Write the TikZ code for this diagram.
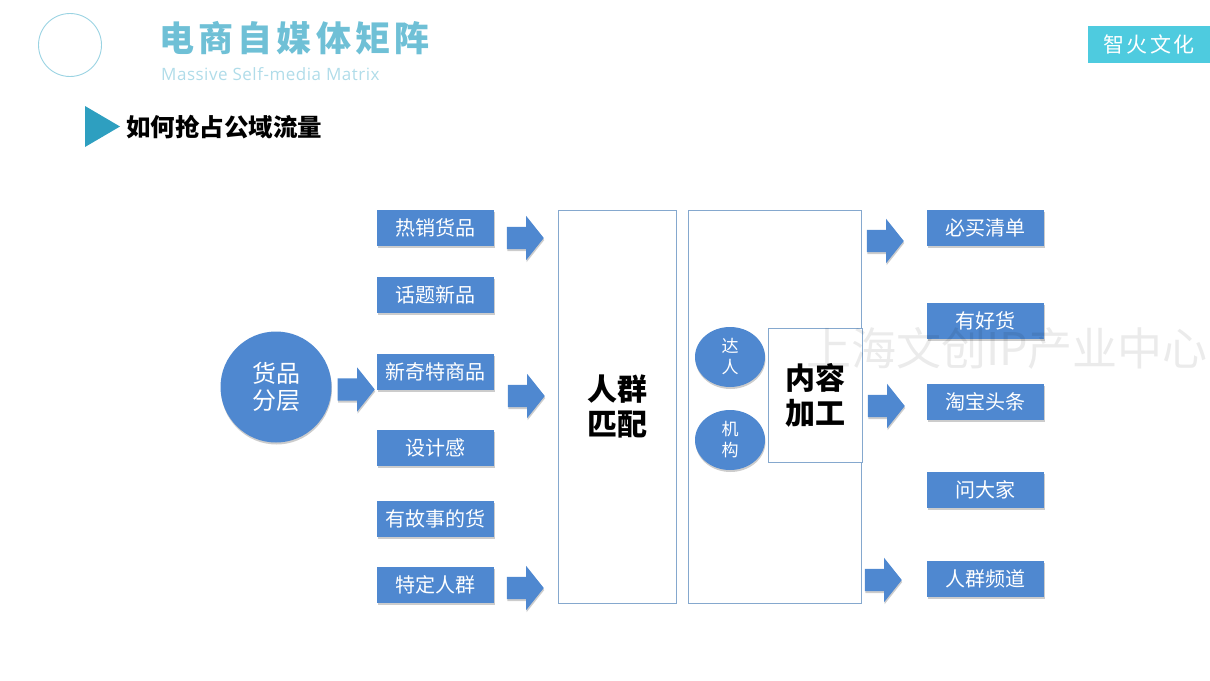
\documentclass[tikz,border=0pt]{standalone}
\usepackage{fontspec}
\setmainfont{Noto Sans CJK SC}
\newfontfamily\wideface[LetterSpace=12]{Noto Sans CJK SC}
\newfontfamily\tagface[LetterSpace=10]{Noto Sans CJK SC}
\newfontfamily\latinface[LetterSpace=3]{Open Sans}
\usetikzlibrary{shapes.arrows,shapes.geometric,shadows}
\definecolor{boxblue}{HTML}{4F88D0}
\definecolor{edgeblue}{HTML}{85A8CE}
\definecolor{titleteal}{HTML}{6FC0D6}
\definecolor{pointerteal}{HTML}{2E9FC0}
\definecolor{tagcyan}{HTML}{4ECBDF}
\tikzset{
	softshadow/.style={drop shadow={shadow xshift=0.5pt, shadow yshift=-2pt, opacity=0.2, fill=black}},
	labelbox/.style={fill=boxblue, text=white, minimum width=117pt, minimum height=36pt, inner sep=0pt, softshadow, font=\fontsize{20}{25}\selectfont},
	blockarrow/.style={single arrow, anchor=tip, fill=boxblue, minimum height=37pt, inner xsep=0pt, inner ysep=11pt, single arrow head extend=11pt, single arrow tip angle=103, softshadow},
	framebox/.style={draw=edgeblue, line width=0.8pt, fill=white, inner sep=0pt},
	bigword/.style={align=center, font=\bfseries\fontsize{30}{35}\selectfont},
	smallround/.style={ellipse, fill=boxblue, text=white, minimum width=70pt, minimum height=60pt, inner sep=0pt, align=center, softshadow, font=\fontsize{17}{21}\selectfont}
}
\begin{document}
\begin{tikzpicture}[x=1pt, y=-1pt]
	\useasboundingbox (0, 0) rectangle (1210, 680);

	%%%%% header %%%%%
	\node[circle, draw=titleteal!70, line width=0.9pt, minimum size=63pt, inner sep=0pt] (ring) at (70, 45) {};
	\node[anchor=west, inner sep=0pt, text=titleteal, font=\wideface\bfseries\fontsize{35}{40}\selectfont] (title) at (159, 38) {电商自媒体矩阵};
	\node[anchor=west, inner sep=0pt, text=titleteal!55, font=\latinface\fontsize{17}{20}\selectfont] (subtitle) at (161, 74) {Massive Self-media Matrix};
	\fill[fill=pointerteal] (85, 106) -- (120, 126.5) -- (85, 147) -- cycle;
	\node[anchor=west, inner sep=0pt, font=\bfseries\fontsize{24.5}{28}\selectfont] (heading) at (126, 127) {如何抢占公域流量};
	\node[fill=tagcyan, text=white, minimum width=122pt, minimum height=37pt, inner sep=0pt, font=\tagface\fontsize{21}{25}\selectfont] (tag) at (1149, 44.5) {智火文化};

	%%%%% left column %%%%%
	\node[circle, fill=boxblue, text=white, minimum size=111pt, inner sep=0pt, align=center, softshadow, font=\fontsize{24}{27}\selectfont] (goods) at (276, 387) {货品\\分层};
	\node[blockarrow] (goodsarrow) at (375, 389.5) {};

	\node[labelbox] (hot) at (435.5, 228) {热销货品};
	\node[labelbox] (topic) at (435.5, 295) {话题新品};
	\node[labelbox] (novel) at (435.5, 372) {新奇特商品};
	\node[labelbox] (design) at (435.5, 448) {设计感};
	\node[labelbox] (story) at (435.5, 519) {有故事的货};
	\node[labelbox] (crowd) at (435.5, 585) {特定人群};

	\node[blockarrow] (arrowa) at (544, 238) {};
	\node[blockarrow] (arrowb) at (545, 396) {};
	\node[blockarrow] (arrowc) at (544, 588) {};

	%%%%% frames %%%%%
	\node[framebox, minimum width=118pt, minimum height=393pt, bigword] (match) at (617, 406.5) {人群\\匹配};
	\node[framebox, minimum width=173pt, minimum height=393pt] (process) at (774.5, 406.5) {};
	\node[smallround] (talent) at (730, 357) {达\\人};
	\node[smallround] (agency) at (730, 440) {机\\构};
	\node[framebox, minimum width=94pt, minimum height=134pt, bigword] (content) at (815, 395) {内容\\加工};

	%%%%% right column %%%%%
	\node[blockarrow] (arrowd) at (904, 241) {};
	\node[blockarrow] (arrowe) at (905, 406) {};
	\node[blockarrow] (arrowf) at (902, 580) {};

	\node[labelbox] (list) at (985.5, 228) {必买清单};
	\node[labelbox] (good) at (985.5, 321) {有好货};
	\node[labelbox] (taobao) at (985.5, 402) {淘宝头条};
	\node[labelbox] (ask) at (985.5, 490) {问大家};
	\node[labelbox] (channel) at (985.5, 579) {人群频道};

	%%%%% watermark %%%%%
	\node[anchor=west, inner sep=0pt, text=black, text opacity=0.08, font=\fontsize{45}{50}\selectfont] (mark) at (806, 348) {上海文创IP产业中心};
\end{tikzpicture}
\end{document}
